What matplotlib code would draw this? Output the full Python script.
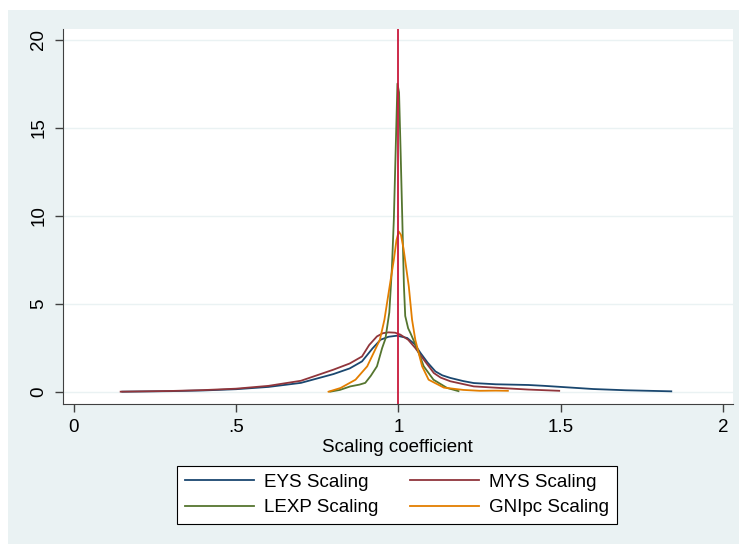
import matplotlib
matplotlib.use("Agg")
import matplotlib.pyplot as plt
from matplotlib.patches import Rectangle

plt.rcParams['font.family'] = ['Liberation Sans', 'DejaVu Sans']

# kernel density curves
eys_x = [0.15, 0.3, 0.4, 0.5, 0.6, 0.7, 0.8, 0.85, 0.888, 0.92, 0.945, 0.97, 0.996, 1.027, 1.05,
         1.068, 1.09, 1.114, 1.135, 1.16, 1.2, 1.232, 1.3, 1.4, 1.45, 1.5, 1.6, 1.7, 1.84]
eys_y = [0.0, 0.03, 0.07, 0.14, 0.27, 0.5, 1.0, 1.32, 1.72, 2.45, 2.95, 3.12, 3.18, 3.05, 2.7,
         2.2, 1.65, 1.15, 0.93, 0.78, 0.6, 0.49, 0.42, 0.38, 0.33, 0.27, 0.15, 0.08, 0.02]

mys_x = [0.145, 0.3, 0.4, 0.5, 0.6, 0.7, 0.8, 0.85, 0.888, 0.91, 0.934, 0.952, 0.97, 0.99,
         1.006, 1.03, 1.052, 1.078, 1.109, 1.13, 1.16, 1.232, 1.314, 1.4, 1.495]
mys_y = [0.0, 0.04, 0.09, 0.17, 0.33, 0.62, 1.25, 1.6, 2.0, 2.65, 3.14, 3.32, 3.37, 3.35,
         3.24, 2.95, 2.48, 1.82, 1.06, 0.8, 0.59, 0.3, 0.21, 0.12, 0.05]

lexp_x = [0.79, 0.82, 0.852, 0.88, 0.898, 0.915, 0.934, 0.95, 0.96, 0.972, 0.98, 0.986, 0.992,
          0.997, 1.002, 1.007, 1.012, 1.017, 1.021, 1.03, 1.037, 1.057, 1.078, 1.108, 1.15, 1.185]
lexp_y = [0.0, 0.1, 0.3, 0.4, 0.5, 0.9, 1.44, 2.48, 3.0, 4.5, 7.0, 9.8, 14.0,
          17.5, 17.0, 13.5, 9.8, 6.0, 4.3, 3.6, 3.33, 2.48, 1.44, 0.68, 0.21, 0.03]

gni_x = [0.785, 0.822, 0.868, 0.904, 0.943, 0.957, 0.973, 0.986, 0.994, 1.001, 1.008, 1.016,
         1.022, 1.032, 1.042, 1.052, 1.073, 1.093, 1.14, 1.2, 1.25, 1.3, 1.337]
gni_y = [0.0, 0.21, 0.68, 1.44, 2.95, 4.09, 5.98, 7.5, 8.6, 9.1, 8.9, 8.1,
         7.3, 5.98, 4.09, 2.95, 1.44, 0.68, 0.23, 0.1, 0.05, 0.06, 0.05]

x_ticks = [0, 0.5, 1, 1.5, 2]
x_labels = ['0', '.5', '1', '1.5', '2']
y_ticks = [0, 5, 10, 15, 20]

bg = '#EAF2F3'
fig = plt.figure(figsize=(7.39, 5.44), dpi=100, facecolor=bg)
# white strip along top and left edge
fig.patches.append(Rectangle((0, 1 - 10 / 544), 1, 10 / 544, transform=fig.transFigure,
                             facecolor='white', edgecolor='none'))
fig.patches.append(Rectangle((0, 0), 8 / 739, 1, transform=fig.transFigure,
                             facecolor='white', edgecolor='none'))

ax = fig.add_axes([62.5 / 739, (544 - 404) / 544, (733 - 62.5) / 739, (404 - 29) / 544])
ax.set_facecolor('white')

l1, = ax.plot(eys_x, eys_y, color='#1a476f', lw=1.3, label='EYS Scaling')
l2, = ax.plot(mys_x, mys_y, color='#90353b', lw=1.3, label='MYS Scaling')
l3, = ax.plot(lexp_x, lexp_y, color='#55752f', lw=1.3, label='LEXP Scaling')
l4, = ax.plot(gni_x, gni_y, color='#e37e00', lw=1.3, label='GNIpc Scaling')
ax.axvline(1, color='#c8193c', lw=1.3)

ax.set_xlim(-0.034, 2.03)
ax.set_ylim(-0.7, 20.6)
ax.set_xticks(x_ticks)
ax.set_xticklabels(x_labels)
ax.set_yticks(y_ticks)
ax.tick_params(axis='y', labelrotation=90)
for lab in ax.get_yticklabels():
    lab.set_verticalalignment('center')
ax.tick_params(direction='out', length=6, width=1, color='#404040', labelsize=13.5, pad=5)
ax.grid(axis='y', color=bg, lw=1)
ax.set_axisbelow(True)
for s in ['top', 'right']:
    ax.spines[s].set_visible(False)
for s in ['left', 'bottom']:
    ax.spines[s].set_color('#404040')
ax.set_xlabel('Scaling coefficient', fontsize=13.5, labelpad=2)

# stata fills the legend row by row
leg = fig.legend([l1, l3, l2, l4], [l1.get_label(), l3.get_label(), l2.get_label(), l4.get_label()],
                 loc='center', bbox_to_anchor=(397 / 739, (544 - 495) / 544), ncol=2,
                 fontsize=13.5, frameon=True, fancybox=False, edgecolor='black', framealpha=1,
                 handlelength=3.7, handletextpad=0.55, columnspacing=1.65, labelspacing=0.45,
                 borderpad=0.4)
leg.get_frame().set_linewidth(0.8)

fig.savefig('out.png', dpi=100, facecolor=bg)
